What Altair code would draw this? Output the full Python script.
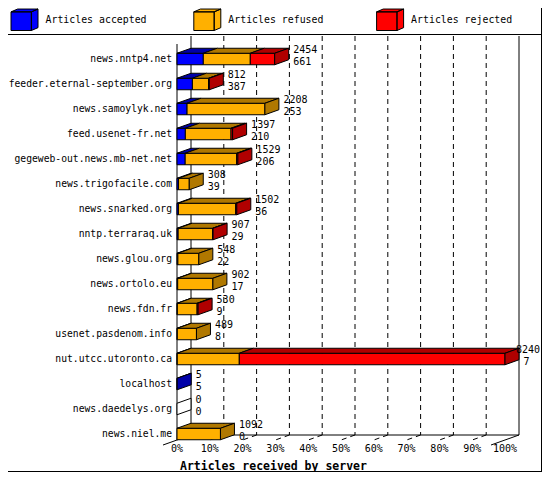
import pandas as pd
import altair as alt

# values
servers = ["news.nntp4.net", "feeder.eternal-september.org", "news.samoylyk.net",
           "feed.usenet-fr.net", "gegeweb-out.news.mb-net.net", "news.trigofacile.com",
           "news.snarked.org", "nntp.terraraq.uk", "news.glou.org", "news.ortolo.eu",
           "news.fdn.fr", "usenet.pasdenom.info", "nut.utcc.utoronto.ca", "localhost",
           "news.daedelys.org", "news.niel.me"]
total = [2454, 812, 2208, 1397, 1529, 308, 1502, 907, 548, 902, 530, 489, 8240, 5, 0, 1092]
accepted = [661, 387, 253, 210, 206, 39, 36, 29, 22, 17, 9, 8, 7, 5, 0, 0]
refused = [1180, 405, 1955, 1147, 1293, 269, 1438, 866, 526, 885, 496, 481, 1558, 0, 0, 1092]
rejected = [613, 20, 0, 40, 30, 0, 28, 12, 0, 0, 25, 0, 6675, 0, 0, 0]

status_names = ["Articles accepted", "Articles refused", "Articles rejected"]
front_colors = ["#0000ff", "#ffb000", "#ff0000"]
shade_colors = ["#0000a8", "#b07800", "#b00000"]

tick_values = [0, 10, 20, 30, 40, 50, 60, 70, 80, 90, 100]
tick_labels = ["0%", "10%", "20%", "30%", "40%", "50%", "60%", "70%", "80%", "90%", "100%"]

FONT = "DejaVu Sans Mono"
W, H = 534, 464     # whole page area inside the 8px margin
PX_PCT = 3.28       # pixels per percent
X0 = 169            # pixel of 0%
PX_ROW = 25         # pixels per server row
Y0 = 51             # pixel of the first row
DX = 14 / PX_PCT    # depth of the 3d effect, in percent units
DY = 5 / PX_ROW     # depth of the 3d effect, in row units
HALF = 0.23         # half height of a bar front
TOP, FLOOR = -0.92, 15.04
CHAR_W = 6.02       # width of one digit at font size 10

full = max(total)

# build the faces of the 3d bars
seg_rows, top_rows, side_rows = [], [], []
for i, name in enumerate(servers):
    start, last = 0.0, "none"
    for status, values in zip(status_names, [accepted, refused, rejected]):
        v = values[i]
        if v == 0:
            continue
        end = start + v / full * 100
        seg_rows.append(dict(status=status, x0=start, x1=end, y0=i - HALF, y1=i + HALF))
        face = f"{i}-{status}"
        top_rows.append(dict(face=face, status=status, y=i - HALF, xa=start, xb=end))
        top_rows.append(dict(face=face, status=status, y=i - HALF - DY, xa=start + DX, xb=end + DX))
        start, last = end, status
    side_rows.append(dict(face=str(i), status=last, x=start, ya=i - HALF, yb=i + HALF))
    side_rows.append(dict(face=str(i), status=last, x=start + DX, ya=i - HALF - DY, yb=i + HALF - DY))

segs = pd.DataFrame(seg_rows)
tops = pd.DataFrame(top_rows)
sides = pd.DataFrame(side_rows)

labels = pd.DataFrame({"row": range(len(servers)), "name": servers,
                       "total": total, "accepted": accepted})
labels["xend"] = labels["total"] / full * 100 + DX + 4.5 / PX_PCT
# keep the numbers inside the page: pull a label left if it would be cut
for col in ["total", "accepted"]:
    width = labels[col].astype(str).str.len() * CHAR_W + 1
    limit = (W - 1 - width - X0) / PX_PCT
    labels["x_" + col] = labels["xend"].where(labels["xend"] < limit, limit)

ticks = pd.DataFrame({"t": tick_values, "label": tick_labels})
ticks["xb"] = ticks["t"] + DX
ticks["top"] = TOP
ticks["floor"] = FLOOR
ticks["front"] = FLOOR + DY
inner = ticks.iloc[1:-1]

frame = pd.DataFrame({
    "xa": [DX, 100 + DX, 0, DX, DX, 100 + DX],
    "xb": [DX, 100 + DX, 0, 100 + DX, -DX, 100 - DX],
    "ya": [TOP, TOP, -0.6, FLOOR, FLOOR, FLOOR],
    "yb": [FLOOR, FLOOR, FLOOR + DY, FLOOR, FLOOR + 2 * DY, FLOOR + 2 * DY],
})

xs = alt.Scale(domain=[-X0 / PX_PCT, (W - X0) / PX_PCT], nice=False, zero=False)
ys = alt.Scale(domain=[-Y0 / PX_ROW, (H - Y0) / PX_ROW], reverse=True, nice=False, zero=False)
shade = alt.Scale(domain=status_names + ["none"], range=shade_colors + ["white"])

CUBE = ("M-1,-0.58H0.51V0.8H-1Z M-1,-0.58L-0.51,-0.79H1L0.51,-0.58Z "
        "M0.51,-0.58L1,-0.79V0.59L0.51,0.8Z")


def X(f):
    return alt.X(f, scale=xs, axis=None)


def Y(f):
    return alt.Y(f, scale=ys, axis=None)


# grid and frame
grid_v = alt.Chart(inner).mark_rule(color="black", strokeDash=[5, 4]).encode(
    x=X("xb:Q"), y=Y("top:Q"), y2="floor:Q")
grid_d = alt.Chart(inner).mark_rule(color="black", strokeDash=[5, 4]).encode(
    x=X("xb:Q"), x2="t:Q", y=Y("floor:Q"), y2="front:Q")
walls = alt.Chart(frame).mark_rule(color="black").encode(
    x=X("xa:Q"), x2="xb:Q", y=Y("ya:Q"), y2="yb:Q")

# bars
front = alt.Chart(segs).mark_rect(stroke="black", strokeWidth=1).encode(
    x=X("x0:Q"), x2="x1:Q", y=Y("y0:Q"), y2="y1:Q",
    color=alt.Color("status:N", scale=alt.Scale(domain=status_names, range=front_colors),
                    legend=alt.Legend(title=None, orient="none", legendX=2.5, legendY=-2.4,
                                      direction="horizontal", columns=3, gridAlign="all",
                                      columnPadding=43.8, padding=0, symbolType=CUBE,
                                      symbolSize=729, symbolStrokeColor="black",
                                      symbolStrokeWidth=1, labelFont=FONT, labelFontSize=9.9,
                                      labelColor="black", labelOffset=7)))
top_faces = alt.Chart(tops).mark_area(orient="horizontal", stroke="black", strokeWidth=1).encode(
    y=Y("y:Q"),
    x=alt.X("xa:Q", scale=xs, axis=None, stack=None), x2="xb:Q",
    detail="face:N",
    fill=alt.Fill("status:N", scale=shade, legend=None))
side_faces = alt.Chart(sides).mark_area(orient="vertical", stroke="black", strokeWidth=1).encode(
    x=X("x:Q"),
    y=alt.Y("ya:Q", scale=ys, axis=None, stack=None), y2="yb:Q",
    detail="face:N",
    fill=alt.Fill("status:N", scale=shade, legend=None))

# texts
names = alt.Chart(labels).mark_text(align="right", baseline="middle", font=FONT,
                                    fontSize=9.7, color="black").encode(
    x=alt.value(164), y=Y("row:Q"), text="name:N")
totals = alt.Chart(labels).mark_text(align="left", baseline="middle", font=FONT, fontSize=10,
                                     dy=-9.5, color="black").encode(
    x=X("x_total:Q"), y=Y("row:Q"), text="total:Q")
accs = alt.Chart(labels).mark_text(align="left", baseline="middle", font=FONT, fontSize=10,
                                   dy=2.5, color="black").encode(
    x=X("x_accepted:Q"), y=Y("row:Q"), text="accepted:Q")
tick_text = alt.Chart(ticks).mark_text(align="center", baseline="middle", font=FONT,
                                       fontSize=10, color="black").encode(
    x=X("t:Q"), y=alt.value(441), text="label:N")
title = alt.Chart(pd.DataFrame({"t": ["Articles received by server"]})).mark_text(
    align="left", baseline="middle", font=FONT, fontSize=11.5, fontWeight="bold",
    color="black").encode(x=alt.value(172), y=alt.value(459), text="t:N")

# border of the picture and legend separator
edges = pd.DataFrame({"xa": [W - 0.5, 0, 0], "xb": [W - 0.5, W, W],
                      "ya": [0, H - 0.5, 26.5], "yb": [H, H - 0.5, 26.5]})
borders = alt.Chart(edges).mark_rule(color="black").encode(
    x=alt.X("xa:Q", scale=None, axis=None), x2="xb:Q",
    y=alt.Y("ya:Q", scale=None, axis=None), y2="yb:Q")

chart = alt.layer(
    grid_v, grid_d, walls, front, top_faces, side_faces,
    names, totals, accs, tick_text, title, borders
).properties(width=W, height=H, padding=0, autosize="none").configure_view(stroke=None)

chart.save("out.html", embed_options={"renderer": "svg", "actions": False})
